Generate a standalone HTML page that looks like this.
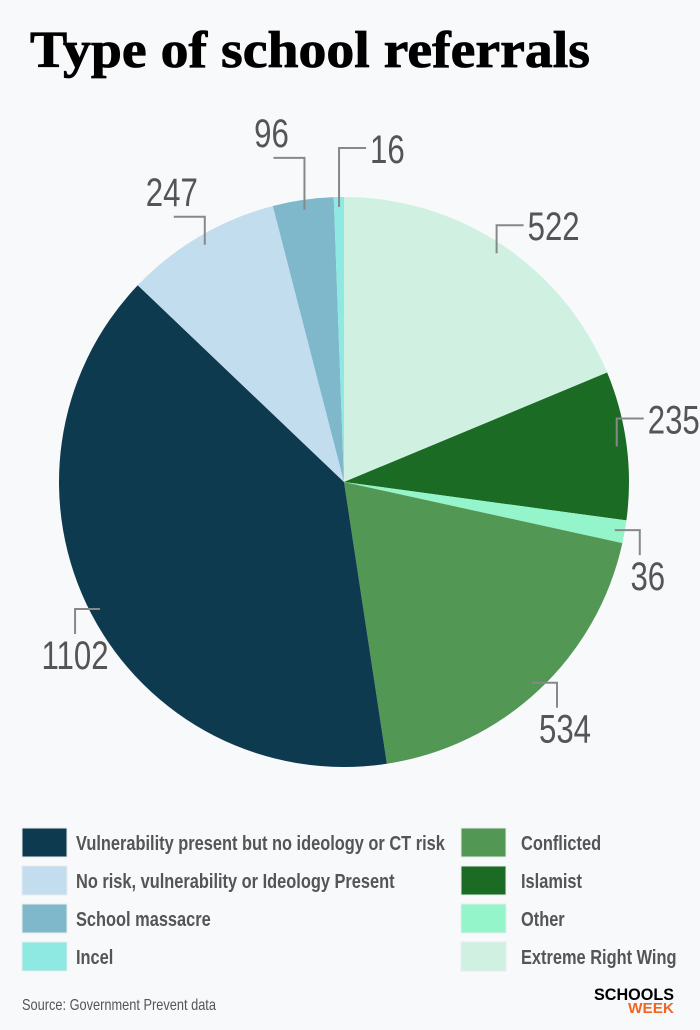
<!DOCTYPE html>
<html><head><meta charset="utf-8"><style>
html,body{margin:0;padding:0;background:#f8f9fb;}
svg{display:block;}
.lab{font-family:"Liberation Sans",sans-serif;font-size:40px;fill:#555;}
.leg{font-family:"Liberation Sans",sans-serif;font-size:20px;font-weight:bold;fill:#555;}
</style></head><body>
<svg id="chart" width="700" height="1030" viewBox="0 0 700 1030">
<rect x="0" y="0" width="700" height="1030" fill="#f8f9fb"/>
<text x="30" y="67" font-family="Liberation Serif, serif" font-weight="bold" font-size="52" fill="#000" stroke="#000" stroke-width="0.8" textLength="560" lengthAdjust="spacingAndGlyphs">Type of school referrals</text>
<g id="slices"></g>
<g id="labels"></g>
<g id="legend"></g>
<text transform="translate(22,1010) scale(0.8,1)" font-family="Liberation Sans, sans-serif" font-size="16" fill="#555">Source: Government Prevent data</text>
<text x="674" y="1000" text-anchor="end" font-family="Liberation Sans, sans-serif" font-weight="bold" font-size="17" fill="#000" textLength="80" lengthAdjust="spacingAndGlyphs">SCHOOLS</text>
<text x="674" y="1013" text-anchor="end" font-family="Liberation Sans, sans-serif" font-weight="bold" font-size="15" fill="#f26522" textLength="46" lengthAdjust="spacingAndGlyphs">WEEK</text>
</svg>
<script>
const categories = ["Extreme Right Wing","Islamist","Other","Conflicted","Vulnerability present but no ideology or CT risk","No risk, vulnerability or Ideology Present","School massacre","Incel"];
const values = [522,235,36,534,1102,247,96,16];
const colors = ["#d0f1e2","#1b6b25","#93f5c9","#539754","#0e3a50","#c2ddee","#7fb8cb","#8de9e2"];
const legendOrder = [4,5,6,7,3,1,2,0];

const NS="http://www.w3.org/2000/svg";
const cx=344, cy=482, R=285;
const total=values.reduce((a,b)=>a+b,0);
function pt(angDeg,r){const a=angDeg*Math.PI/180;return [cx+r*Math.sin(a),cy-r*Math.cos(a)];}
function mk(tag,attrs,parent){const e=document.createElementNS(NS,tag);for(const k in attrs)e.setAttribute(k,attrs[k]);parent.appendChild(e);return e;}
const gS=document.getElementById('slices'),gL=document.getElementById('labels'),gG=document.getElementById('legend');
let cum=0;
values.forEach((v,i)=>{
  const a0=cum/total*360, a1=(cum+v)/total*360; cum+=v;
  const p0=pt(a0,R),p1=pt(a1,R);
  const large=(a1-a0)>180?1:0;
  const s=mk('path',{d:`M${cx},${cy}L${p0[0]},${p0[1]}A${R},${R} 0 ${large} 1 ${p1[0]},${p1[1]}Z`,fill:colors[i]},gS);
  
  
  const mid=(a0+a1)/2, an=pt(mid,R*0.965);
  const right=an[0]>=cx-8, up=an[1]<cy;
  let d,tx,ty,anchor;
  if(up){
    const frac=v/total;
    const rise=frac<0.01?59:(frac<0.05?52:28);
    const ey=an[1]-rise, ex=an[0]+(right?27:-31);
    d=`M${an[0]},${an[1]}V${ey}H${ex}`;
    if(right){tx=ex+4;ty=ey+15;anchor='start';} else {tx=ex-2;ty=ey-11;anchor='middle';}
  } else {
    const ex=an[0]+(right?25:-25), ey=an[1]+25;
    d=`M${an[0]},${an[1]}H${ex}V${ey}`;
    tx=ex+(right?8:0);ty=ey+35;anchor='middle';
  }
  const ln=mk('path',{d:d,fill:'none',stroke:'#888','stroke-width':2},gL);
  
  
  const t=mk('text',{transform:`translate(${tx},${ty}) scale(0.78,1)`,'text-anchor':anchor,class:'lab'},gL);
  t.textContent=String(values[i]);
  
  
});
legendOrder.forEach((idx,k)=>{
  const col=k<4?0:1, row=k%4;
  const x=col?461:22, y=828+row*38;
  const r=mk('rect',{x:x,y:y,width:45,height:29,fill:colors[idx],stroke:'#e8ecee','stroke-width':1},gG);
  
  
  const t=mk('text',{transform:`translate(${x+(col?60:54)},${y+22}) scale(0.82,1)`,class:'leg'},gG);
  t.textContent=categories[idx];
  
  
});
</script>
</body></html>
